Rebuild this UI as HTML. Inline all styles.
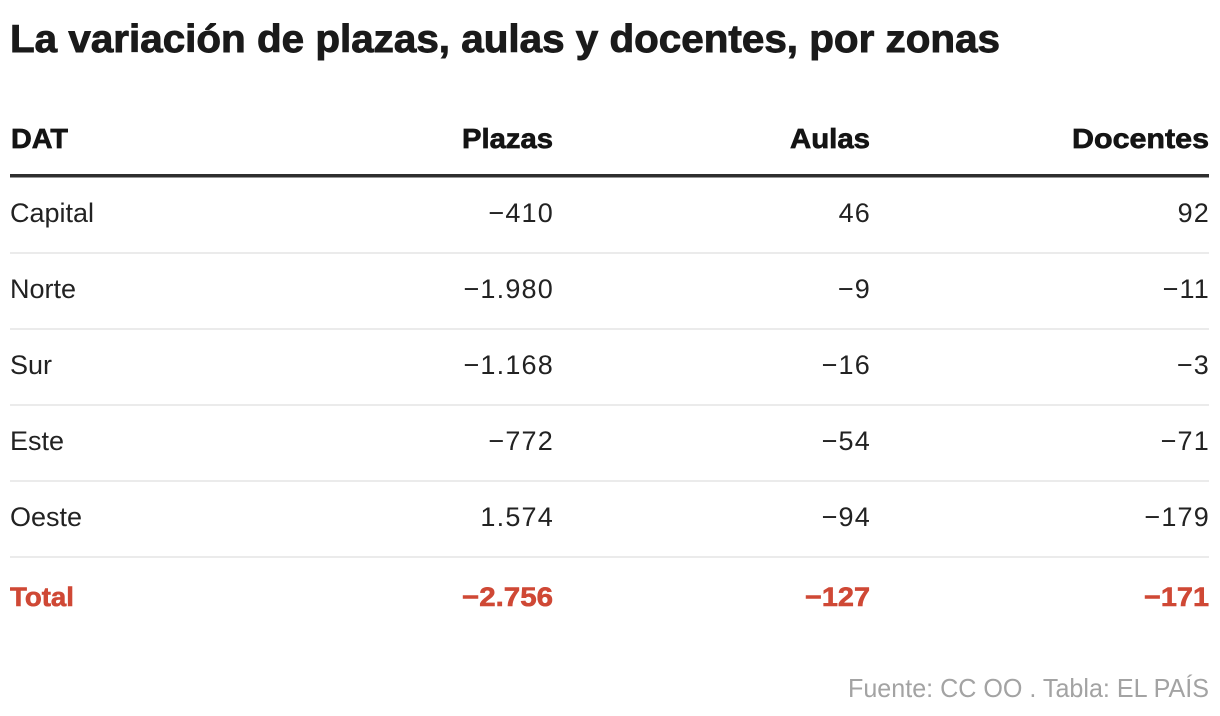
<!DOCTYPE html>
<html>
<head>
<meta charset="utf-8">
<style>
  html, body { margin: 0; padding: 0; background: #fff; }
  body { width: 1220px; height: 716px; overflow: hidden; }
  svg { display: block; }
  text { font-family: "Liberation Sans", Arial, sans-serif; }
  .t { font-size: 39px; font-weight: 700; fill: #1a1a1a; stroke: #1a1a1a; stroke-width: 0.9px; }
  .h { font-size: 28px; font-weight: 700; fill: #141414; stroke: #141414; stroke-width: 0.7px; }
  .b { font-size: 27px; font-weight: 400; fill: #222; }
  .n { font-size: 27px; font-weight: 400; fill: #222; letter-spacing: 1.2px; }
  .r { font-size: 27px; font-weight: 700; fill: #cf4835; stroke: #cf4835; stroke-width: 0.6px; }
  .f { font-size: 26px; font-weight: 400; fill: #a3a3a3; }
</style>
</head>
<body>
<svg width="1220" height="716" viewBox="0 0 1220 716" xmlns="http://www.w3.org/2000/svg">
  <rect x="0" y="0" width="1220" height="716" fill="#fff"/>

  <text class="t" x="10" y="52" textLength="990" lengthAdjust="spacingAndGlyphs">La variación de plazas, aulas y docentes, por zonas</text>

  <!-- header -->
  <text class="h" x="11" y="148" textLength="57" lengthAdjust="spacingAndGlyphs">DAT</text>
  <text class="h" x="553" y="148" text-anchor="end" textLength="91" lengthAdjust="spacingAndGlyphs">Plazas</text>
  <text class="h" x="870" y="148" text-anchor="end" textLength="80" lengthAdjust="spacingAndGlyphs">Aulas</text>
  <text class="h" x="1209" y="148" text-anchor="end" textLength="137" lengthAdjust="spacingAndGlyphs">Docentes</text>

  <rect x="10" y="174" width="1199" height="3.5" fill="#2e2e2e"/>

  <!-- rows -->
  <text class="b" x="10" y="222">Capital</text>
  <text class="n" x="554" y="222" text-anchor="end">−410</text>
  <text class="n" x="871" y="222" text-anchor="end">46</text>
  <text class="n" x="1210" y="222" text-anchor="end">92</text>
  <rect x="10" y="252" width="1199" height="2" fill="#ebebeb"/>

  <text class="b" x="10" y="298">Norte</text>
  <text class="n" x="554" y="298" text-anchor="end">−1.980</text>
  <text class="n" x="871" y="298" text-anchor="end">−9</text>
  <text class="n" x="1210" y="298" text-anchor="end">−11</text>
  <rect x="10" y="328" width="1199" height="2" fill="#ebebeb"/>

  <text class="b" x="10" y="374">Sur</text>
  <text class="n" x="554" y="374" text-anchor="end">−1.168</text>
  <text class="n" x="871" y="374" text-anchor="end">−16</text>
  <text class="n" x="1210" y="374" text-anchor="end">−3</text>
  <rect x="10" y="404" width="1199" height="2" fill="#ebebeb"/>

  <text class="b" x="10" y="450">Este</text>
  <text class="n" x="554" y="450" text-anchor="end">−772</text>
  <text class="n" x="871" y="450" text-anchor="end">−54</text>
  <text class="n" x="1210" y="450" text-anchor="end">−71</text>
  <rect x="10" y="480" width="1199" height="2" fill="#ebebeb"/>

  <text class="b" x="10" y="526">Oeste</text>
  <text class="n" x="554" y="526" text-anchor="end">1.574</text>
  <text class="n" x="871" y="526" text-anchor="end">−94</text>
  <text class="n" x="1210" y="526" text-anchor="end">−179</text>
  <rect x="10" y="556" width="1199" height="2" fill="#ebebeb"/>

  <!-- total -->
  <text class="r" x="10" y="606" textLength="64" lengthAdjust="spacingAndGlyphs">Total</text>
  <text class="r" x="553" y="606" text-anchor="end" textLength="91" lengthAdjust="spacingAndGlyphs">−2.756</text>
  <text class="r" x="870" y="606" text-anchor="end" textLength="65" lengthAdjust="spacingAndGlyphs">−127</text>
  <text class="r" x="1209" y="606" text-anchor="end" textLength="65" lengthAdjust="spacingAndGlyphs">−171</text>

  <!-- footer -->
  <text class="f" x="1209" y="697" text-anchor="end" textLength="361" lengthAdjust="spacingAndGlyphs">Fuente: CC OO . Tabla: EL PAÍS</text>
</svg>
</body>
</html>
